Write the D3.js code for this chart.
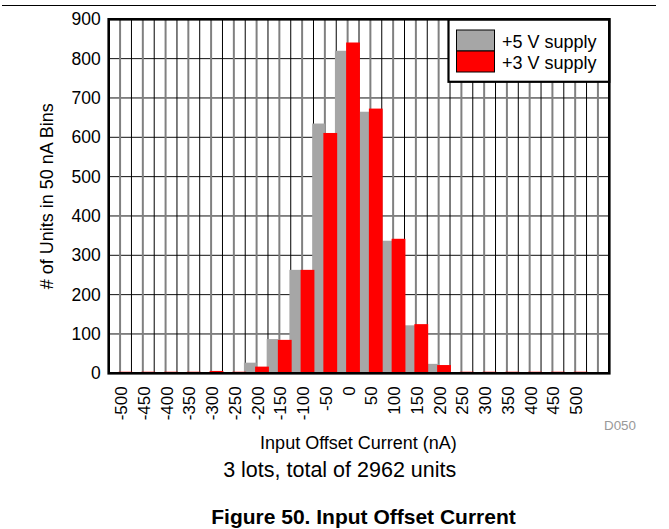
<!DOCTYPE html>
<html>
<head>
<meta charset="utf-8">
<script src="https://cdn.jsdelivr.net/npm/d3@7/dist/d3.min.js"></script>
<style>
  html, body { margin: 0; padding: 0; background: #fff; }
  svg { display: block; font-family: "Liberation Sans", Arial, sans-serif; }
</style>
</head>
<body>
<svg id="chart" width="669" height="529"></svg>
<script>
// Histogram bins (nA); the last bin is drawn but left unlabeled
const bins = [-500, -450, -400, -350, -300, -250, -200, -150, -100, -50, 0,
              50, 100, 150, 200, 250, 300, 350, 400, 450, 500, 550];
const binLabels = ["-500", "-450", "-400", "-350", "-300", "-250", "-200", "-150", "-100", "-50", "0",
                   "50", "100", "150", "200", "250", "300", "350", "400", "450", "500", ""];
// Unit counts per bin
const supply5V = [0, 0, 0, 0, 0, 3, 27, 87, 263, 635, 820,
                  665, 337, 122, 24, 0, 0, 0, 0, 0, 0, 0];
const supply3V = [4, 4, 4, 4, 6, 4, 17, 85, 263, 611, 841,
                  673, 342, 125, 21, 4, 4, 4, 4, 4, 4, 0];
const yTicks = [0, 100, 200, 300, 400, 500, 600, 700, 800, 900];
const seriesNames = ["+5 V supply", "+3 V supply"];
const seriesColors = ["#a6a6a6", "#ff0000"];

const svg = d3.select("#chart");
const plot = { left: 108.7, right: 609.3, top: 19.3, bottom: 373.3 };

const x = d3.scaleBand().domain(bins).range([plot.left, plot.right]).padding(0);
const y = d3.scaleLinear().domain([0, 900]).range([plot.bottom, plot.top]);
const bw = x.bandwidth();
const center = d => x(d) + bw / 2;

// Top rule
svg.append("line").attr("x1", 2).attr("x2", 656).attr("y1", 5.5).attr("y2", 5.5)
  .attr("stroke", "#000").attr("stroke-width", 1.2);

const g = svg.append("g");

// Horizontal grid
g.selectAll("line.hgrid").data(yTicks.slice(1, -1)).join("line")
  .attr("class", "hgrid")
  .attr("x1", plot.left).attr("x2", plot.right)
  .attr("y1", d => y(d)).attr("y2", d => y(d))
  .attr("stroke", "#111").attr("stroke-width", 1);

// Vertical grid: black lines on bin edges, grey lines through bin centers
g.selectAll("line.edge").data(bins.slice(1)).join("line")
  .attr("class", "edge")
  .attr("x1", d => x(d)).attr("x2", d => x(d))
  .attr("y1", plot.top).attr("y2", plot.bottom)
  .attr("stroke", "#000").attr("stroke-width", 1);
g.selectAll("line.mid").data(bins).join("line")
  .attr("class", "mid")
  .attr("x1", d => center(d)).attr("x2", d => center(d))
  .attr("y1", plot.top).attr("y2", plot.bottom)
  .attr("stroke", "#808080").attr("stroke-width", 2);

// Bars: +5 V on the left half, +3 V on the right half of each bin
g.selectAll("rect.s5").data(bins).join("rect")
  .attr("class", "s5")
  .attr("x", d => center(d) - 12.7)
  .attr("width", 12.7)
  .attr("y", (d, i) => y(supply5V[i]))
  .attr("height", (d, i) => plot.bottom - y(supply5V[i]))
  .attr("fill", seriesColors[0]);
g.selectAll("rect.s3").data(bins).join("rect")
  .attr("class", "s3")
  .attr("x", d => center(d) - 1.5)
  .attr("width", 13.8)
  .attr("y", (d, i) => y(supply3V[i]))
  .attr("height", (d, i) => plot.bottom - y(supply3V[i]))
  .attr("fill", seriesColors[1]);

// Legend
const lg = svg.append("g");
lg.append("rect").attr("x", 448.5).attr("y", plot.top).attr("width", plot.right - 448.5).attr("height", 62.5)
  .attr("fill", "#fff").attr("stroke", "#000").attr("stroke-width", 2.2);
seriesNames.forEach((name, i) => {
  lg.append("rect").attr("x", 456.5).attr("y", 30 + i * 21).attr("width", 38).attr("height", 21)
    .attr("fill", seriesColors[i]).attr("stroke", "#000").attr("stroke-width", 1);
  lg.append("text").attr("x", 502).attr("y", 48 + i * 21)
    .attr("font-size", 18).attr("fill", "#000").text(name);
});

// Frame
svg.append("rect").attr("x", plot.left).attr("y", plot.top)
  .attr("width", plot.right - plot.left).attr("height", plot.bottom - plot.top)
  .attr("fill", "none").attr("stroke", "#000").attr("stroke-width", 2.6);

// Y axis labels
const yAxis = d3.axisLeft(y).tickValues(yTicks).tickSize(0).tickPadding(8);
svg.append("g").attr("transform", `translate(${plot.left},0)`).call(yAxis)
  .call(a => a.select(".domain").remove())
  .selectAll("text").attr("font-size", 17.5).attr("fill", "#000")
  .attr("font-family", "Liberation Sans, Arial, sans-serif");

// X axis labels (rotated)
const xAxis = d3.axisBottom(x).tickFormat((d, i) => binLabels[i]).tickSize(0);
svg.append("g").attr("transform", `translate(0,${plot.bottom})`).call(xAxis)
  .call(a => a.select(".domain").remove())
  .selectAll("text")
  .attr("font-size", 17).attr("fill", "#000")
  .attr("font-family", "Liberation Sans, Arial, sans-serif")
  .attr("text-anchor", "end")
  .attr("transform", "translate(1,13) rotate(-90)")
  .attr("x", 0).attr("y", 0).attr("dy", "0.35em");

// Titles
svg.append("text").attr("transform", `translate(53,${(plot.top + plot.bottom) / 2}) rotate(-90)`)
  .attr("text-anchor", "middle").attr("font-size", 18).attr("fill", "#000")
  .text("# of Units in 50 nA Bins");
svg.append("text").attr("x", 358.5).attr("y", 449.3).attr("text-anchor", "middle")
  .attr("font-size", 18).attr("fill", "#000").text("Input Offset Current (nA)");
svg.append("text").attr("x", 339.7).attr("y", 476.7).attr("text-anchor", "middle")
  .attr("font-size", 21.5).attr("fill", "#000").text("3 lots, total of 2962 units");
svg.append("text").attr("x", 636).attr("y", 430).attr("text-anchor", "end")
  .attr("font-size", 13.4).attr("fill", "#999").text("D050");
svg.append("text").attr("x", 363.5).attr("y", 524.3).attr("text-anchor", "middle")
  .attr("font-size", 21).attr("font-weight", "bold").attr("fill", "#000")
  .text("Figure 50. Input Offset Current");
</script>
</body>
</html>
